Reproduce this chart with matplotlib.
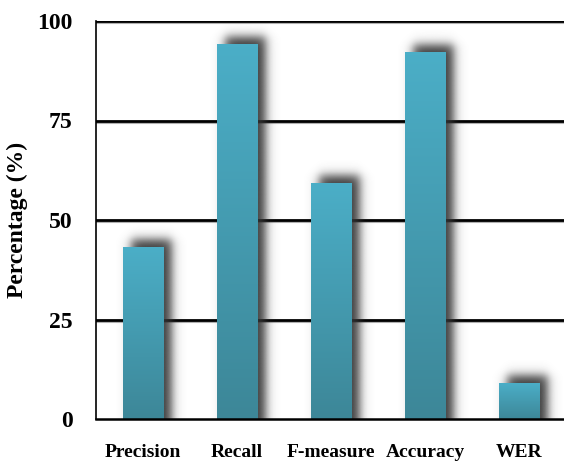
import numpy as np
import matplotlib
matplotlib.use("Agg")
import matplotlib.pyplot as plt
from matplotlib.colors import LinearSegmentedColormap

categories = ["Precision", "Recall", "F-measure", "Accuracy", "WER"]
values = [43.2, 94.0, 59.2, 92.1, 8.8]
yticks = [0, 25, 50, 75, 100]

plt.rcParams["font.family"] = ["Liberation Serif", "DejaVu Serif"]
plt.rcParams["font.weight"] = "bold"

fig = plt.figure(figsize=(5.64, 4.62), dpi=100)
ax = fig.add_axes([96 / 564, 1 - 419 / 462, 468 / 564, 398 / 462])

width = 0.43
# pixel -> data conversions
px_x = 1 / 94
px_y = 100 / 398
dx, dy = 8 * px_x, 8 * px_y
sx, sy = 3 * px_x, 3 * px_y

# gridlines with a faint shadow underneath
for t in yticks[1:]:
    ax.axhline(t - 0.6, color="#b0b0b0", lw=1.5, zorder=1)
    ax.axhline(t, color="black", lw=2, zorder=1.5)

grad = LinearSegmentedColormap.from_list("bar", ["#3d8798", "#4baec7"])

def sig(z):
    return 1 / (1 + np.exp(-z))

for i, v in enumerate(values):
    # blurred drop shadow
    x0, x1 = i - width / 2 + dx, i + width / 2 + dx
    y1 = v + dy
    ex0, ex1 = x0 - 5 * sx, x1 + 5 * sx
    ey0, ey1 = 0, y1 + 5 * sy
    xs = np.linspace(ex0, ex1, 120)
    ys = np.linspace(ey0, ey1, 300)
    X, Y = np.meshgrid(xs, ys)
    a = sig((X - x0) / sx) * sig((x1 - X) / sx) * sig((y1 - Y) / sy)
    rgba = np.zeros((len(ys), len(xs), 4))
    rgba[..., :3] = 0.2
    rgba[..., 3] = a * 0.95
    ax.imshow(rgba, extent=[ex0, ex1, ey0, ey1], origin="lower",
              aspect="auto", zorder=2, interpolation="bilinear")

    # gradient bar
    g = np.linspace(0, 1, 100).reshape(-1, 1)
    ax.imshow(g, extent=[i - width / 2, i + width / 2, 0, v], origin="lower",
              cmap=grad, aspect="auto", zorder=3, interpolation="bilinear")

ax.set_xlim(-0.5, 4.48)
ax.set_ylim(0, 100)

ax.set_xticks(range(len(categories)))
ax.set_xticklabels(categories, fontsize=14, fontweight="bold")
ax.set_yticks(yticks)
ax.set_yticklabels([str(t) for t in yticks], fontsize=17, fontweight="bold")
ax.tick_params(axis="both", length=0)
ax.tick_params(axis="x", pad=18)
ax.tick_params(axis="y", pad=17)

ax.set_ylabel("Percentage (%)", fontsize=17, fontweight="bold", labelpad=6.5)

ax.spines["top"].set_visible(False)
ax.spines["right"].set_visible(False)
ax.spines["left"].set_linewidth(1.2)
ax.spines["bottom"].set_linewidth(1.8)
ax.spines["left"].set_zorder(5)
ax.spines["bottom"].set_zorder(5)

plt.savefig("out.png", dpi=100)
